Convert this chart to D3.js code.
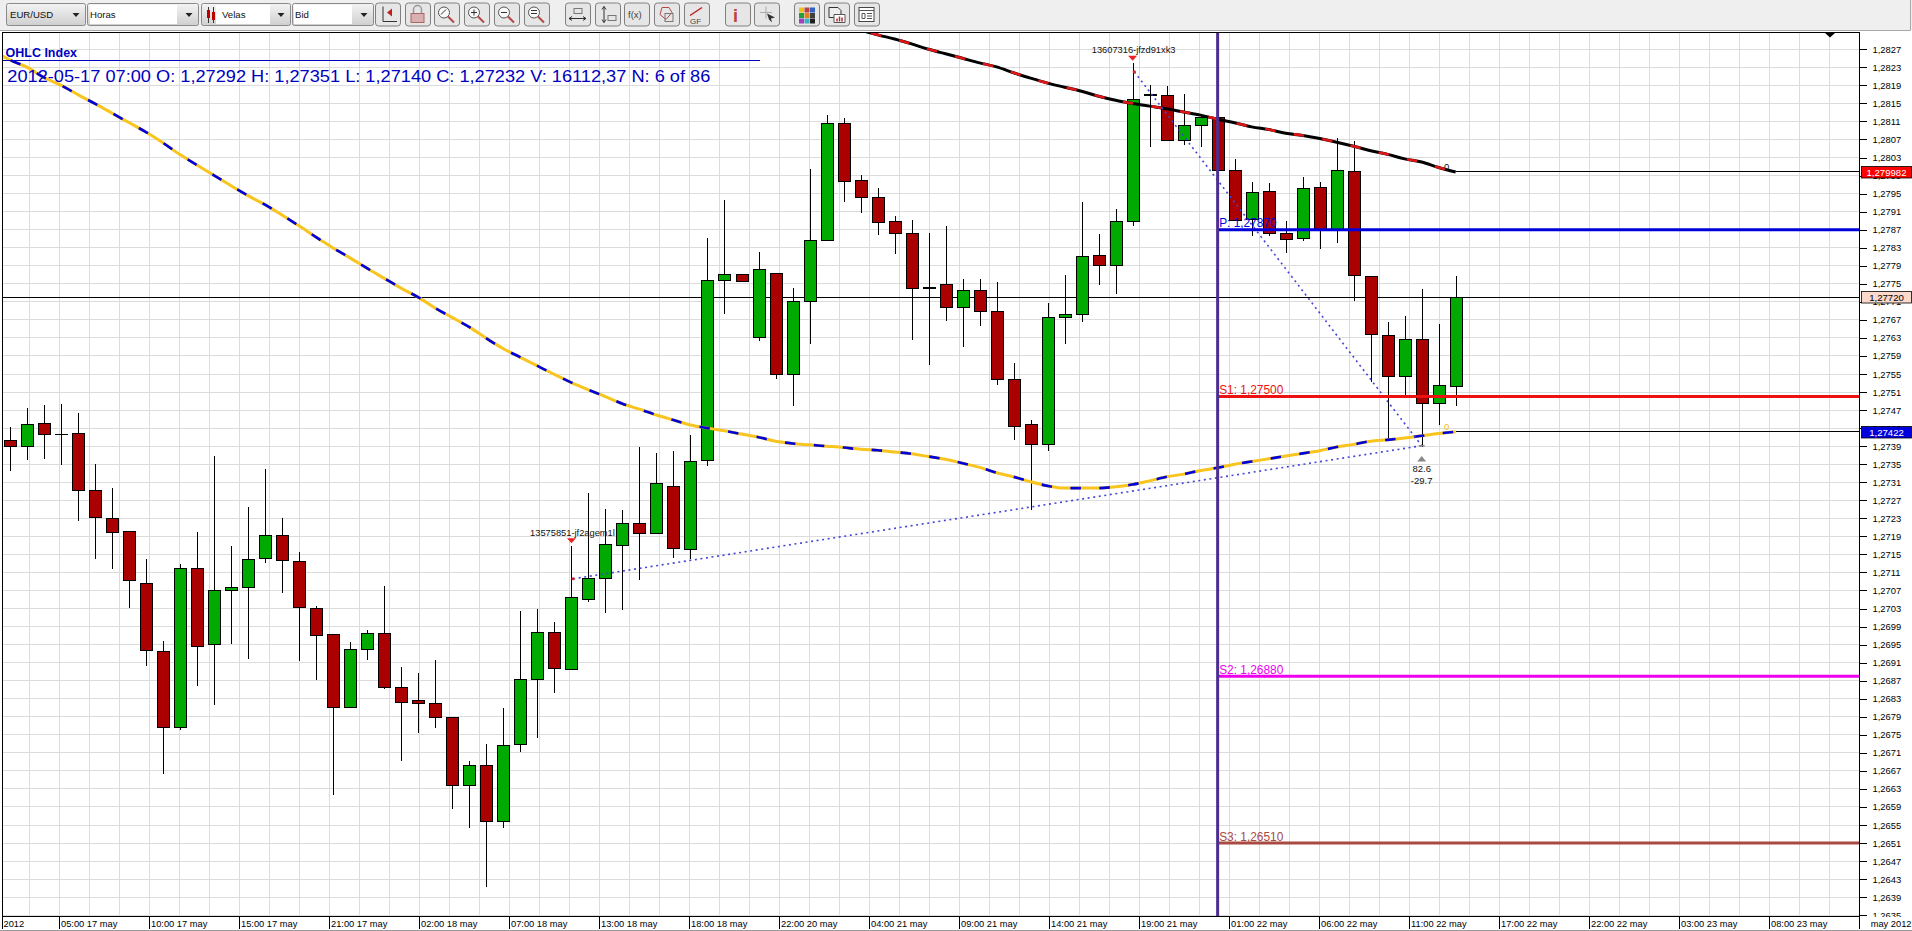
<!DOCTYPE html>
<html><head><meta charset="utf-8">
<script src="https://cdn.jsdelivr.net/npm/d3@7"></script>
<style>html,body{margin:0;padding:0;background:#fff;overflow:hidden}svg{display:block;font-family:"Liberation Sans",Arial,sans-serif}</style>
</head><body><svg id="c" width="1912" height="931"></svg>
<script>
const opens=[1.27403,1.27389,1.27441,1.27416,1.27418,1.27292,1.27230,1.27201,1.27086,1.26935,1.26766,1.27119,1.26950,1.27070,1.27076,1.27141,1.27192,1.27135,1.27030,1.26973,1.26811,1.26939,1.26975,1.26855,1.26825,1.26820,1.26789,1.26638,1.26682,1.26557,1.26728,1.26872,1.26977,1.26895,1.27050,1.27096,1.27170,1.27219,1.27196,1.27301,1.27160,1.27359,1.27757,1.27771,1.27631,1.27773,1.27549,1.27710,1.27846,1.28106,1.27980,1.27942,1.27889,1.27862,1.27742,1.27749,1.27697,1.27736,1.27689,1.27538,1.27439,1.27393,1.27675,1.27682,1.27813,1.27790,1.27888,1.28169,1.28168,1.28067,1.28101,1.28119,1.28002,1.27892,1.27955,1.27862,1.27851,1.27964,1.27871,1.27999,1.27767,1.27636,1.27545,1.27627,1.27484,1.27523];
const highs=[1.27432,1.27474,1.27481,1.27484,1.27463,1.27351,1.27297,1.27201,1.27139,1.26959,1.27128,1.27199,1.27368,1.27169,1.27255,1.27340,1.27230,1.27155,1.27035,1.26973,1.26956,1.26982,1.27079,1.26900,1.26887,1.26915,1.26789,1.26691,1.26730,1.26809,1.27025,1.27028,1.27000,1.27169,1.27287,1.27251,1.27248,1.27388,1.27375,1.27379,1.27414,1.27851,1.27936,1.27771,1.27820,1.27773,1.27740,1.28004,1.28124,1.28117,1.27991,1.27962,1.27900,1.27891,1.27862,1.27878,1.27760,1.27760,1.27753,1.27574,1.27448,1.27708,1.27769,1.27931,1.27860,1.27915,1.28239,1.28191,1.28189,1.28171,1.28124,1.28119,1.28027,1.27976,1.27973,1.27889,1.27986,1.27976,1.28073,1.28066,1.27767,1.27665,1.27679,1.27739,1.27661,1.27767];
const lows=[1.27336,1.27359,1.27362,1.27349,1.27223,1.27140,1.27118,1.27031,1.26903,1.26662,1.26761,1.26859,1.26817,1.26952,1.26919,1.27132,1.27065,1.26913,1.26871,1.26617,1.26811,1.26916,1.26851,1.26693,1.26754,1.26765,1.26586,1.26544,1.26413,1.26544,1.26712,1.26744,1.26843,1.26895,1.27044,1.27019,1.27027,1.27094,1.27196,1.27142,1.27140,1.27347,1.27682,1.27755,1.27624,1.27538,1.27478,1.27617,1.27846,1.27932,1.27906,1.27859,1.27817,1.27626,1.27571,1.27668,1.27609,1.27657,1.27526,1.27404,1.27249,1.27380,1.27617,1.27666,1.27747,1.27727,1.27878,1.28054,1.28067,1.28058,1.28054,1.28001,1.27891,1.27855,1.27855,1.27819,1.27844,1.27828,1.27841,1.27713,1.27533,1.27407,1.27500,1.27389,1.27438,1.27478];
const closes=[1.27389,1.27438,1.27416,1.27415,1.27291,1.27232,1.27199,1.27092,1.26937,1.26766,1.27118,1.26945,1.27070,1.27077,1.27139,1.27192,1.27136,1.27032,1.26970,1.26811,1.26939,1.26975,1.26855,1.26822,1.26819,1.26788,1.26638,1.26681,1.26557,1.26726,1.26873,1.26977,1.26897,1.27054,1.27097,1.27172,1.27219,1.27196,1.27308,1.27163,1.27356,1.27758,1.27771,1.27755,1.27782,1.27549,1.27711,1.27846,1.28106,1.27977,1.27941,1.27886,1.27861,1.27739,1.27739,1.27697,1.27736,1.27688,1.27538,1.27433,1.27393,1.27676,1.27682,1.27811,1.27790,1.27889,1.28159,1.28168,1.28067,1.28101,1.28119,1.28001,1.27891,1.27953,1.27862,1.27849,1.27962,1.27871,1.28002,1.27769,1.27637,1.27545,1.27627,1.27484,1.27525,1.27720];
const maFirstIndex=-1;
const maLong=[1.28267,1.28246,1.28230,1.28207,1.28190,1.28169,1.28149,1.28128,1.28107,1.28086,1.28062,1.28036,1.28013,1.27990,1.27967,1.27945,1.27925,1.27902,1.27878,1.27853,1.27829,1.27807,1.27784,1.27762,1.27740,1.27720,1.27696,1.27675,1.27654,1.27629,1.27606,1.27587,1.27568,1.27549,1.27531,1.27515,1.27500,1.27484,1.27472,1.27459,1.27448,1.27437,1.27430,1.27424,1.27417,1.27410,1.27401,1.27396,1.27393,1.27390,1.27387,1.27383,1.27381,1.27377,1.27373,1.27367,1.27361,1.27352,1.27343,1.27331,1.27322,1.27311,1.27302,1.27297,1.27297,1.27297,1.27300,1.27305,1.27313,1.27322,1.27328,1.27336,1.27342,1.27350,1.27356,1.27362,1.27368,1.27374,1.27380,1.27388,1.27394,1.27401,1.27404,1.27408,1.27413,1.27418,1.27422];
const maShortFirstIndex=50;
const maShort=[1.28313,1.28302,1.28293,1.28282,1.28270,1.28260,1.28250,1.28240,1.28231,1.28218,1.28206,1.28195,1.28186,1.28177,1.28166,1.28157,1.28150,1.28144,1.28138,1.28131,1.28124,1.28115,1.28107,1.28098,1.28092,1.28084,1.28079,1.28072,1.28064,1.28055,1.28045,1.28037,1.28027,1.28020,1.28008,1.27998];
const priceTicks=[1.2827,1.2823,1.2819,1.2815,1.2811,1.2807,1.2803,1.2799,1.2795,1.2791,1.2787,1.2783,1.2779,1.2775,1.2771,1.2767,1.2763,1.2759,1.2755,1.2751,1.2747,1.2743,1.2739,1.2735,1.2731,1.2727,1.2723,1.2719,1.2715,1.2711,1.2707,1.2703,1.2699,1.2695,1.2691,1.2687,1.2683,1.2679,1.2675,1.2671,1.2667,1.2663,1.2659,1.2655,1.2651,1.2647,1.2643,1.2639,1.2635];
const timeLabels=["05:00 17 may","10:00 17 may","15:00 17 may","21:00 17 may","02:00 18 may","07:00 18 may","13:00 18 may","18:00 18 may","22:00 20 may","04:00 21 may","09:00 21 may","14:00 21 may","19:00 21 may","01:00 22 may","06:00 22 may","11:00 22 may","17:00 22 may","22:00 22 may","03:00 23 may","08:00 23 may"];
const pivotNames=["P","S1","S2","S3"];
const pivotValues=[1.2787,1.275,1.2688,1.2651];
const pivotColors=["#0000dd","#ee1111","#ee00ee","#a84a42"];
const pivotStartIndex=71;
const currentPrice=1.2772;
const troughFan=[[33.1,1.27096],[83,1.27391]];
const peakFan=[[66.1,1.2822],[83,1.27391]];
const orderMarks=[{i:33,p:1.27169,t:"13575851-jf2agem1l"},{i:66,p:1.28239,t:"13607316-jfzd91xk3"}];
const statMark={i:83,p:1.27389,a:"82.6",b:"-29.7"};
const headerTitle="OHLC Index";
const headerLine="2012-05-17 07:00 O: 1,27292 H: 1,27351 L: 1,27140 C: 1,27232 V: 16112,37 N: 6 of 86";

const L=2.5,T=32,R=1859.5,B=916.5;
const svg=d3.select("#c");
const x=d3.scaleLinear().domain([0,85]).range([10.3,1455.7]);
const y=d3.scaleLinear().domain([1.2827,1.2635]).range([49.3,915.2]);
const slot=d3.scaleLinear().domain([0,1]).range([59.5,149.5]);
const comma=d=>d.toString().replace(".",",");
const crisp=s=>s.attr("shape-rendering","crispEdges");

svg.append("defs").append("clipPath").attr("id","plot").append("rect").attr("x",L).attr("y",T).attr("width",R-L).attr("height",B-T);
const plot=svg.append("g").attr("clip-path","url(#plot)");

// grid
const gridSlots=d3.range(-1,60).map(k=>k/3);
plot.append("g").selectAll("line").data(gridSlots).join("line").attr("x1",d=>slot(d)).attr("x2",d=>slot(d)).attr("y1",T).attr("y2",B).attr("stroke","#dcdcdc").attr("stroke-width",1).call(crisp);
plot.append("g").selectAll("line").data(priceTicks).join("line").attr("x1",L).attr("x2",R).attr("y1",d=>y(d)).attr("y2",d=>y(d)).attr("stroke","#dcdcdc").attr("stroke-width",1).call(crisp);

// current price line
plot.append("line").attr("x1",L).attr("x2",R).attr("y1",y(currentPrice)).attr("y2",y(currentPrice)).attr("stroke","#000").call(crisp);
// level lines to the right of the last bar
[maLong[maLong.length-1],maShort[maShort.length-1]].forEach(v=>{
  plot.append("line").attr("x1",x(85)).attr("x2",R).attr("y1",y(v)).attr("y2",y(v)).attr("stroke","#000").call(crisp);
});

// candles
const idx=d3.range(opens.length);
const cg=plot.append("g");
cg.selectAll("line").data(idx).join("line").attr("x1",i=>Math.round(x(i))+.5).attr("x2",i=>Math.round(x(i))+.5).attr("y1",i=>y(highs[i])).attr("y2",i=>y(lows[i])).attr("stroke","#000").attr("stroke-width",1).call(crisp);
cg.selectAll("rect").data(idx).join("rect")
 .attr("x",i=>Math.round(x(i))-5.5).attr("width",12)
 .attr("y",i=>y(Math.max(opens[i],closes[i])))
 .attr("height",i=>Math.max(0.5,Math.abs(y(opens[i])-y(closes[i]))))
 .attr("fill",i=>closes[i]>opens[i]?"#00aa00":"#aa0000").attr("stroke","#000").attr("stroke-width",1).call(crisp);

// moving averages
const lineOf=(first)=>d3.line().x((d,i)=>x(i+first)).y(d=>y(d)).curve(d3.curveMonotoneX);
const drawMA=(vals,first,base,dash,off)=>{
  const d=lineOf(first)(vals);
  plot.append("path").attr("d",d).attr("fill","none").attr("stroke",base).attr("stroke-width",3);
  plot.append("path").attr("d",d).attr("fill","none").attr("stroke",dash).attr("stroke-width",2.6).attr("stroke-dasharray","10.5,18.5").attr("stroke-dashoffset",off);
};
drawMA(maLong,maFirstIndex,"#f8c41e","#0000dd",9);
drawMA(maShort,maShortFirstIndex,"#000","#e01515",18);

// dotted fans
const fan=d3.line().x(d=>x(d[0])).y(d=>y(d[1]));
[troughFan,peakFan].forEach(f=>{
  plot.append("path").attr("d",fan(f)).attr("fill","none").attr("stroke","#4444d8").attr("stroke-width",1.6).attr("stroke-dasharray","2,3.6");
  plot.append("circle").attr("cx",x(f[0][0])).attr("cy",y(f[0][1])).attr("r",1.6).attr("fill","#dd2222");
});
plot.append("path").attr("d",`M${x(83)-3} ${y(1.27391)}h6`).attr("stroke","#888").attr("stroke-width",1.5);

// pivots
pivotValues.forEach((v,k)=>{
  plot.append("line").attr("x1",x(pivotStartIndex)).attr("x2",R).attr("y1",y(v)).attr("y2",y(v)).attr("stroke",pivotColors[k]).attr("stroke-width",3);
});
plot.append("line").attr("x1",x(pivotStartIndex)).attr("x2",x(pivotStartIndex)).attr("y1",T).attr("y2",B).attr("stroke","#4b2f90").attr("stroke-width",3);
pivotValues.forEach((v,k)=>{
  plot.append("text").attr("x",x(pivotStartIndex)+1.5).attr("y",y(v)-2.5).attr("font-size",11.9).attr("fill",pivotColors[k]).text(pivotNames[k]+": "+d3.format(".5f")(v).replace(".",","));
});

// markers
orderMarks.forEach(m=>{
  const px=x(m.i),py=y(m.p);
  plot.append("path").attr("d",`M${px-4.5} ${py-7.5}L${px+4.5} ${py-7.5}L${px} ${py-2.5}Z`).attr("fill","#ee2222");
  plot.append("text").attr("x",px+1).attr("y",py-10).attr("text-anchor","middle").attr("font-size",9.3).attr("fill","#111").text(m.t);
});
{
  const px=x(statMark.i),py=y(statMark.p);
  plot.append("path").attr("d",`M${px-4.5} ${py+15}L${px+4.5} ${py+15}L${px} ${py+9.5}Z`).attr("fill","#888");
  plot.append("text").attr("x",px).attr("y",py+25).attr("text-anchor","middle").attr("font-size",9.5).attr("fill","#111").text(statMark.a);
  plot.append("text").attr("x",px).attr("y",py+37).attr("text-anchor","middle").attr("font-size",9.5).attr("fill","#111").text(statMark.b);
}
plot.append("text").attr("x",x(85)-9).attr("y",y(maShort[maShort.length-1])-2).attr("text-anchor","middle").attr("font-size",9.5).attr("fill","#111").text("0");
plot.append("text").attr("x",x(85)-9).attr("y",y(maLong[maLong.length-1])-2).attr("text-anchor","middle").attr("font-size",9.5).attr("fill","#f0c020").text("0");
plot.append("path").attr("d","M1824.5 32.5L1835.5 32.5L1830 37.5Z").attr("fill","#000");

// header
plot.append("text").attr("x",5.5).attr("y",56.7).attr("font-size",12.5).attr("font-weight","bold").attr("fill","#0000c0").text(headerTitle);
plot.append("line").attr("x1",L).attr("x2",760).attr("y1",60.5).attr("y2",60.5).attr("stroke","#0000c0").call(crisp);
plot.append("text").attr("x",7.3).attr("y",81.7).attr("font-size",16).attr("fill","#0000c0").attr("textLength",703).attr("lengthAdjust","spacingAndGlyphs").text(headerLine);

// y axis
const ax=svg.append("g").attr("transform",`translate(${R},0)`).call(d3.axisRight(y).tickValues(priceTicks).tickSize(7).tickPadding(6).tickFormat(comma));
ax.select(".domain").remove();
ax.selectAll("text").attr("font-size",9.4).attr("font-family","Liberation Sans").attr("fill","#000");
ax.selectAll("line").attr("stroke","#000").call(crisp);

// tags
const tag=(v,txt,fill,col)=>{
  const yy=y(v);
  svg.append("rect").attr("x",1861.5).attr("y",Math.round(yy)-5.5).attr("width",50).attr("height",11.5).attr("fill",fill).attr("stroke","#000").attr("stroke-width",.8);
  svg.append("text").attr("x",1886.5).attr("y",Math.round(yy)+3.6).attr("text-anchor","middle").attr("font-size",9.6).attr("fill",col).text(txt);
};
tag(maShort[maShort.length-1],"1,279982","#ff0000","#fff");
tag(currentPrice,"1,27720","#fbd9cb","#000");
tag(maLong[maLong.length-1],"1,27422","#0000dd","#fff");

// frame and time axis
svg.append("rect").attr("x",0).attr("y",917).attr("width",1912).attr("height",14).attr("fill","#fff");
svg.append("line").attr("x1",L).attr("x2",R).attr("y1",B).attr("y2",B).attr("stroke","#000").call(crisp);
svg.append("line").attr("x1",L).attr("x2",R).attr("y1",T).attr("y2",T).attr("stroke","#000").call(crisp);
svg.append("line").attr("x1",L).attr("x2",L).attr("y1",T).attr("y2",929).attr("stroke","#000").attr("stroke-width",1.2).call(crisp);
svg.append("line").attr("x1",R).attr("x2",R).attr("y1",T).attr("y2",929).attr("stroke","#000").call(crisp);
const tg=svg.append("g");
tg.selectAll("line").data(timeLabels).join("line").attr("x1",(d,k)=>slot(k)).attr("x2",(d,k)=>slot(k)).attr("y1",B).attr("y2",929).attr("stroke","#000").call(crisp);
tg.selectAll("text").data(timeLabels).join("text").attr("x",(d,k)=>slot(k)+1.5).attr("y",927.3).attr("font-size",9.3).attr("fill","#000").text(d=>d);
svg.append("text").attr("x",3.5).attr("y",927.3).attr("font-size",9.3).text("2012");
svg.append("text").attr("x",1870.7).attr("y",927.3).attr("font-size",9.3).text("may 2012");
svg.append("line").attr("x1",0).attr("x2",1912).attr("y1",930.5).attr("y2",930.5).attr("stroke","#999").call(crisp);

// toolbar
const tb=svg.append("g");
tb.append("rect").attr("width",1912).attr("height",30).attr("fill","#efefef");
tb.append("path").attr("d","M0 30.5H1910.5V0").attr("fill","none").attr("stroke","#a8a8a8");
const grad=svg.select("defs").append("linearGradient").attr("id","g").attr("x1",0).attr("x2",0).attr("y1",0).attr("y2",1);
grad.append("stop").attr("offset",0).attr("stop-color","#f4f4f4");grad.append("stop").attr("offset",1).attr("stop-color","#cfcfcf");
const combos=[[6,79,10,"EUR/USD",null],[87,111,90,"Horas",[90,177]],[201,89,222,"Velas",[216,270]],[292,81,295,"Bid",[294,352]]];
combos.forEach(c=>{
  tb.append("rect").attr("x",c[0]+.5).attr("y",3.5).attr("width",c[1]).attr("height",22).attr("rx",2).attr("fill","url(#g)").attr("stroke","#8a8a8a");
  if(c[4])tb.append("rect").attr("x",c[4][0]).attr("y",5).attr("width",c[4][1]-c[4][0]).attr("height",19).attr("fill","#fff");
  tb.append("text").attr("x",c[2]).attr("y",18).attr("font-size",9.6).attr("fill","#111").text(c[3]);
  const ax0=c[0]+c[1]-9;
  tb.append("path").attr("d",`M${ax0-3.5} 13L${ax0+3.5} 13L${ax0} 17Z`).attr("fill","#222");
});
tb.append("path").attr("d","M208.5 7V23M213.5 7V23").attr("stroke","#333");
tb.append("rect").attr("x",207).attr("y",10).attr("width",3).attr("height",8).attr("fill","#b00");
tb.append("rect").attr("x",212).attr("y",12).attr("width",3).attr("height",8).attr("fill","#b00");
const btnX=[375,405,434,464,494,524,565,595,624,654,684,725,754,794,824,854];
const mag=(g,inner)=>{
  g.append("circle").attr("cx",10).attr("cy",10).attr("r",5.5).attr("fill","#f8f8f8").attr("stroke","#555");
  g.append("path").attr("d","M14 14L20 20").attr("stroke","#b04848").attr("stroke-width",2);
  if(inner)g.append("path").attr("d",inner).attr("stroke","#333").attr("fill","none");
};
const icons=[
 g=>{g.append("path").attr("d","M8 4V19H22").attr("stroke","#333").attr("fill","none");g.append("path").attr("d","M17 6V14L12 10Z").attr("fill","#c02020");},
 g=>{g.append("path").attr("d","M8.5 11V7a4 4 0 0 1 8 0V11").attr("stroke","#999").attr("stroke-width",1.5).attr("fill","none");g.append("rect").attr("x",6).attr("y",11).attr("width",13).attr("height",9).attr("fill","#d8b0b0").attr("stroke","#a66");},
 g=>mag(g,"M7 12L12 7"),g=>mag(g,"M7 10H13M10 7V13"),g=>mag(g,"M7 10H13"),g=>mag(g,"M7 8H13M7 11H13"),
 g=>{g.append("path").attr("d","M4 16H21M4 16L7 14M4 16L7 18M21 16L18 14M21 16L18 18").attr("stroke","#333").attr("fill","none");g.append("rect").attr("x",9).attr("y",6).attr("width",8).attr("height",5).attr("fill","none").attr("stroke","#777");},
 g=>{g.append("path").attr("d","M9 4V20M9 4L7 7M9 4L11 7M9 20L7 17M9 20L11 17").attr("stroke","#333").attr("fill","none");g.append("rect").attr("x",13).attr("y",13).attr("width",8).attr("height",5).attr("fill","none").attr("stroke","#777");},
 g=>{g.append("text").attr("x",4).attr("y",15).attr("font-size",9.5).attr("fill","#444").text("f(x)");},
 g=>{g.append("path").attr("d","M8 5L15 5L18 10L12 17L6 12Z").attr("fill","none").attr("stroke","#b04848");g.append("rect").attr("x",11).attr("y",11).attr("width",8).attr("height",8).attr("fill","none").attr("stroke","#777");},
 g=>{g.append("path").attr("d","M6 13L18 5").attr("stroke","#c02020").attr("stroke-width",1.5);g.append("text").attr("x",6).attr("y",21).attr("font-size",8).attr("fill","#444").text("GF");},
 g=>{g.append("text").attr("x",8).attr("y",19).attr("font-size",18).attr("font-weight","bold").attr("fill","#c04040").text("i");},
 g=>{g.append("path").attr("d","M6 10H18M12 4V16").attr("stroke","#aaa");g.append("path").attr("d","M13 11L21 15L17 16L18 20L15 17Z").attr("fill","#333");},
 g=>{["#e8c020","#c04040","#3060c0","#20a040","#e08020","#404040","#a040c0","#40b0c0","#202020"].forEach((c,k)=>g.append("rect").attr("x",5+(k%3)*5.5).attr("y",5+Math.floor(k/3)*5.5).attr("width",5).attr("height",5).attr("fill",c));},
 g=>{g.append("path").attr("d","M5 5H14L17 8V15H5Z").attr("fill","#eee").attr("stroke","#333");g.append("path").attr("d","M10 12H21V20H10Z").attr("fill","#fff").attr("stroke","#555");g.append("path").attr("d","M13 19V16M15.5 19V14M18 19V15").attr("stroke","#b03030").attr("stroke-width",1.5);},
 g=>{g.append("rect").attr("x",5).attr("y",5).attr("width",15).attr("height",14).attr("fill","#fff").attr("stroke","#444");g.append("path").attr("d","M5 8H20M8 11H11V16H8ZM13 11H18M13 13.5H18M13 16H18").attr("stroke","#555").attr("fill","none");}
];
btnX.forEach((bx,k)=>{
  const g=tb.append("g").attr("transform",`translate(${bx},2.5)`);
  g.append("rect").attr("x",.5).attr("y",.5).attr("width",25).attr("height",23).attr("rx",3).attr("fill","#e6e6e6").attr("stroke","#808080");
  icons[k](g);
});
</script></body></html>
